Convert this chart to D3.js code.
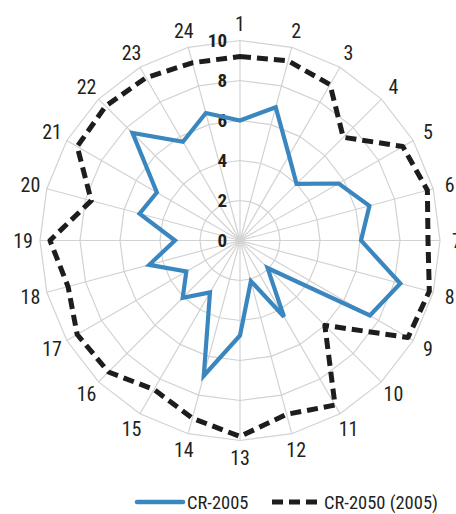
<!DOCTYPE html>
<html><head><meta charset="utf-8">
<script src="https://cdn.jsdelivr.net/npm/d3@7"></script>
<style>
html,body{margin:0;padding:0;background:#fff;}
svg{display:block;}
text{font-family:"Liberation Sans Narrow","Arial Narrow","Roboto Condensed",sans-serif;}
</style></head>
<body><svg id="c" width="456" height="514"></svg>
<script>
const categories = ["1","2","3","4","5","6","7","8","9","10","11","12","13","14","15","16","17","18","19","20","21","22","23","24"];
const cr2005 = [6.0,6.9,4.9,4.0,5.7,6.7,6.05,8.3,7.5,1.95,4.4,2.1,4.75,7.0,3.0,4.05,3.1,4.7,3.25,5.2,4.8,7.6,5.7,6.6];
const cr2050 = [9.2,9.3,9.0,7.3,9.4,9.7,9.4,9.8,9.7,6.0,9.5,9.0,9.8,9.2,8.6,9.3,9.4,8.9,9.5,7.7,9.4,9.5,9.4,9.2];
const tickValues = [0,2,4,6,8,10];
const seriesNames = ["CR-2005","CR-2050 (2005)"];

const svg = d3.select("#c");
const cx = 240, cy = 240.5, R = 200;
const r = d3.scaleLinear().domain([0,10]).range([0,R]);
const angle = d3.scalePoint().domain(categories).range([0, 2*Math.PI*(23/24)]);
const pt = (c, v) => { const a = angle(c); return [cx + r(v)*Math.sin(a), cy - r(v)*Math.cos(a)]; };

const g = svg.append("g");
// rings
tickValues.filter(t=>t>0).forEach(t=>{
  g.append("path")
    .attr("d", d3.line()(categories.map(c=>pt(c,t))) + "Z")
    .attr("fill","none").attr("stroke","#d2d2d2").attr("stroke-width",1.2);
});
// spokes
categories.forEach(c=>{
  const [x,y] = pt(c,10);
  g.append("line").attr("x1",cx).attr("y1",cy).attr("x2",x).attr("y2",y)
    .attr("stroke","#d2d2d2").attr("stroke-width",1.2);
});
// axis labels
categories.forEach(c=>{
  const [x,y] = pt(c,10.85);
  g.append("text").attr("x",x).attr("y",y).attr("text-anchor","middle")
    .attr("dy","0.36em").attr("font-size",20).attr("fill","#231f20").text(c);
});
// tick labels
tickValues.forEach(t=>{
  g.append("text").attr("x",cx-13).attr("y",cy - r(t)).attr("dy","0.36em")
    .attr("text-anchor","end").attr("font-size",19).attr("font-weight","bold")
    .attr("fill","#231f20").text(t);
});
// series
const line = d3.lineRadial().angle((d,i)=>angle(categories[i])).radius(d=>r(d)).curve(d3.curveLinearClosed);
svg.append("path").attr("transform",`translate(${cx},${cy})`).attr("d", line(cr2050))
  .attr("fill","none").attr("stroke","#1d1d1b").attr("stroke-width",5)
  .attr("stroke-dasharray","11,6").attr("stroke-linejoin","round");
svg.append("path").attr("transform",`translate(${cx},${cy})`).attr("d", line(cr2005))
  .attr("fill","none").attr("stroke","#3a87c0").attr("stroke-width",4.2)
  .attr("stroke-linejoin","miter");

// legend
const ly = 502;
const lg = svg.append("g");
lg.append("line").attr("x1",137).attr("x2",183).attr("y1",ly).attr("y2",ly)
  .attr("stroke","#3a87c0").attr("stroke-width",4.5).attr("stroke-linecap","round");
lg.append("text").attr("x",187).attr("y",ly).attr("dy","0.36em").attr("font-size",18.5)
  .attr("fill","#231f20").text(seriesNames[0]);
lg.append("line").attr("x1",272).attr("x2",320).attr("y1",ly).attr("y2",ly)
  .attr("stroke","#1d1d1b").attr("stroke-width",5).attr("stroke-dasharray","11,6");
lg.append("text").attr("x",324).attr("y",ly).attr("dy","0.36em").attr("font-size",18.5)
  .attr("fill","#231f20").text(seriesNames[1]);
</script></body></html>
